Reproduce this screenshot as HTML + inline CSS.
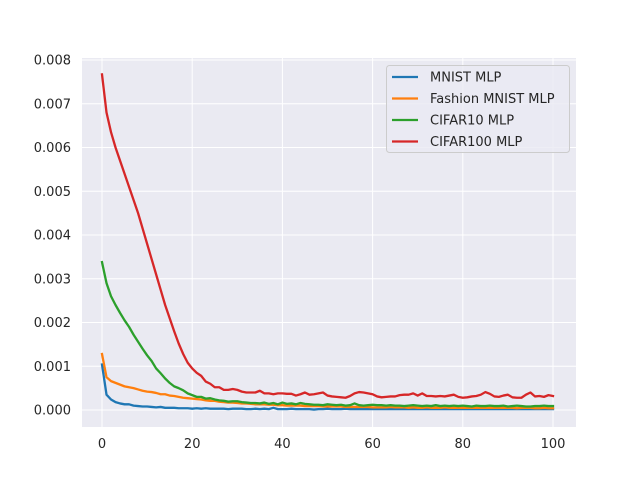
<!DOCTYPE html>
<html><head><meta charset="utf-8"><style>
body{margin:0;background:#fff;}
svg{display:block;font-family:"DejaVu Sans","Liberation Sans",sans-serif;}
</style></head><body>
<svg id="chart" width="640" height="480">
<rect x="82" y="58" width="494" height="369" fill="#eaeaf2"/>
<g id="grid"></g><g id="ticks"></g><g id="lines"></g>
<g id="legend"></g>
</svg>
<script>
const epochs = Array.from({length:101},(_,i)=>i);
const seriesNames = ["MNIST MLP","Fashion MNIST MLP","CIFAR10 MLP","CIFAR100 MLP"];
const colors = ["#1f77b4","#ff7f0e","#2ca02c","#d62728"];
const mnist = [1.04,0.35,0.24,0.18,0.15,0.13,0.13,0.10,0.09,0.08,0.08,0.07,0.06,0.07,0.05,0.05,0.05,0.04,0.04,0.04,0.03,0.04,0.03,0.04,0.03,0.03,0.03,0.03,0.02,0.03,0.03,0.03,0.02,0.02,0.03,0.02,0.03,0.02,0.05,0.02,0.02,0.02,0.03,0.02,0.02,0.02,0.02,0.01,0.02,0.02,0.03,0.02,0.02,0.02,0.03,0.02,0.02,0.02,0.02,0.02,0.02,0.02,0.02,0.02,0.02,0.02,0.02,0.02,0.02,0.02,0.02,0.02,0.02,0.02,0.02,0.02,0.02,0.02,0.02,0.02,0.02,0.02,0.02,0.02,0.02,0.02,0.02,0.02,0.02,0.02,0.02,0.02,0.02,0.02,0.02,0.02,0.02,0.02,0.02,0.02,0.02];
const fashion = [1.28,0.75,0.66,0.62,0.58,0.54,0.52,0.50,0.47,0.44,0.42,0.41,0.39,0.36,0.36,0.33,0.32,0.30,0.28,0.27,0.26,0.25,0.24,0.22,0.21,0.21,0.19,0.18,0.17,0.17,0.16,0.15,0.15,0.14,0.13,0.13,0.13,0.12,0.12,0.11,0.11,0.10,0.10,0.10,0.10,0.09,0.09,0.09,0.09,0.08,0.08,0.08,0.08,0.08,0.07,0.07,0.07,0.07,0.07,0.07,0.06,0.06,0.06,0.06,0.07,0.06,0.06,0.06,0.05,0.06,0.05,0.05,0.06,0.05,0.05,0.05,0.06,0.05,0.05,0.05,0.05,0.05,0.05,0.05,0.05,0.05,0.05,0.05,0.05,0.05,0.05,0.05,0.04,0.05,0.05,0.05,0.04,0.04,0.05,0.04,0.04];
const cifar10 = [3.38,2.90,2.60,2.40,2.22,2.05,1.90,1.72,1.56,1.40,1.25,1.12,0.95,0.84,0.72,0.62,0.54,0.50,0.45,0.38,0.34,0.30,0.30,0.26,0.27,0.24,0.22,0.21,0.19,0.20,0.20,0.18,0.17,0.16,0.16,0.15,0.17,0.14,0.16,0.13,0.17,0.14,0.15,0.13,0.16,0.14,0.13,0.12,0.12,0.11,0.13,0.12,0.11,0.12,0.10,0.11,0.15,0.11,0.10,0.11,0.12,0.11,0.11,0.10,0.11,0.10,0.10,0.09,0.10,0.11,0.10,0.09,0.10,0.09,0.11,0.09,0.10,0.09,0.10,0.09,0.10,0.09,0.08,0.10,0.09,0.09,0.10,0.09,0.09,0.10,0.08,0.09,0.10,0.09,0.08,0.08,0.09,0.09,0.10,0.09,0.09];
const cifar100 = [7.67,6.80,6.35,6.00,5.70,5.40,5.10,4.80,4.50,4.15,3.80,3.45,3.10,2.75,2.40,2.10,1.80,1.52,1.28,1.08,0.95,0.85,0.78,0.65,0.60,0.52,0.52,0.46,0.46,0.48,0.46,0.42,0.40,0.40,0.40,0.44,0.38,0.38,0.36,0.38,0.38,0.37,0.37,0.33,0.36,0.40,0.35,0.36,0.38,0.40,0.33,0.31,0.30,0.29,0.28,0.32,0.38,0.41,0.40,0.38,0.36,0.31,0.29,0.30,0.31,0.31,0.34,0.35,0.35,0.38,0.33,0.38,0.32,0.32,0.31,0.32,0.31,0.33,0.35,0.30,0.28,0.29,0.31,0.32,0.35,0.41,0.37,0.31,0.30,0.33,0.35,0.29,0.28,0.28,0.35,0.40,0.31,0.32,0.30,0.34,0.32];
const xTicks = [0,20,40,60,80,100];
const yTicks = [0,1,2,3,4,5,6,7,8];
const yTickLabels = ["0.000","0.001","0.002","0.003","0.004","0.005","0.006","0.007","0.008"];

const NS="http://www.w3.org/2000/svg";
const X = v => 102 + v*(553-102)/100;
const Y = v => 410 - v*43.75;
function mk(tag, attrs, parent){const e=document.createElementNS(NS,tag);for(const k in attrs)e.setAttribute(k,attrs[k]);parent.appendChild(e);return e;}
const grid=document.getElementById('grid'), ticks=document.getElementById('ticks'), lines=document.getElementById('lines'), legend=document.getElementById('legend');
xTicks.forEach(t=>{
  const l=mk('line',{x1:X(t),x2:X(t),y1:58,y2:427,stroke:'#fff','stroke-width':1},grid);
  
  
  const tx=mk('text',{x:X(t),y:448,'text-anchor':'middle','font-size':13,fill:'#262626'},ticks);
  tx.textContent=t;
  
  
});
yTicks.forEach((t,i)=>{
  const l=mk('line',{x1:82,x2:576,y1:Y(t),y2:Y(t),stroke:'#fff','stroke-width':1},grid);
  
  
  const tx=mk('text',{x:71,y:Y(t)+4.5,'text-anchor':'end','font-size':13,fill:'#262626'},ticks);
  tx.textContent=yTickLabels[i];
  
  
});
[mnist,fashion,cifar10,cifar100].forEach((s,k)=>{
  const d=s.map((v,i)=>(i?'L':'M')+X(epochs[i]).toFixed(2)+' '+Y(v).toFixed(2)).join(' ');
  const p=mk('path',{d:d,fill:'none',stroke:colors[k],'stroke-width':2.3,'stroke-linejoin':'round','stroke-linecap':'square'},lines);
  
  
});
const box=mk('rect',{x:386.5,y:65.5,width:183,height:87,rx:3,fill:'#eaeaf2','fill-opacity':0.8,stroke:'#ccc'},legend);


seriesNames.forEach((n,k)=>{
  const y=77+k*21.5;
  const l=mk('line',{x1:392,x2:418,y1:y,y2:y,stroke:colors[k],'stroke-width':2.3},legend);
  
  
  const t=mk('text',{x:430,y:y+4.5,'font-size':13,fill:'#262626'},legend);
  t.textContent=n;
  
  
});
</script>
</body></html>
